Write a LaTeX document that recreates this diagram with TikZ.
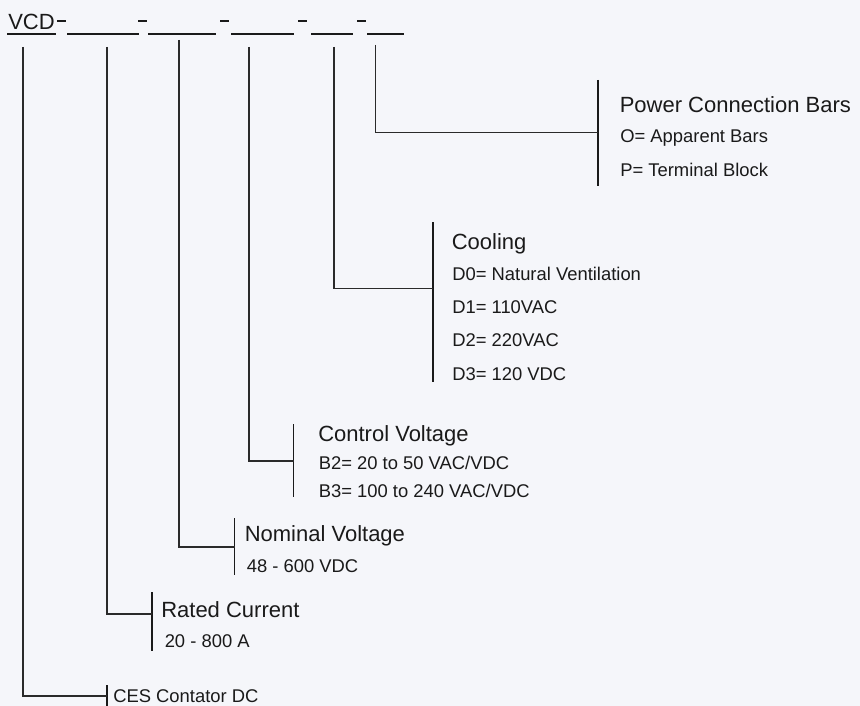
\documentclass[tikz,border=0pt]{standalone}
\usepackage{fontspec}
\setmainfont{Liberation Sans}
\definecolor{bg}{HTML}{F5F6FA}
\definecolor{ink}{HTML}{1A1A1A}
\definecolor{wire}{HTML}{2A2A2A}
\tikzset{
  title/.style={anchor=base west, inner sep=0pt, font=\fontsize{16.5}{19}\selectfont, text=ink},
  item/.style={anchor=base west, inner sep=0pt, font=\fontsize{13.8}{16}\selectfont, text=ink},
  bar/.style={draw=ink, line width=1pt},
  link/.style={draw=wire, line width=1pt},
  blank/.style={draw=ink, line width=0.9pt},
}
\begin{document}
\begin{tikzpicture}[x=0.75pt,y=-0.75pt]
\fill[bg] (0,0) rectangle (860,706);
\useasboundingbox (0,0) rectangle (860,706);

% code line
\node[title] (vcd) at (8,30) {VCD};
\draw[blank] (7,34) -- (56,34);
\foreach \a/\b in {57/66,138/147,220/229,298/307,357/366}
  \draw[blank] (\a,21) -- (\b,21);
\foreach \a/\b in {67/139,148/216,231/294,311/353,367/404}
  \draw[blank] (\a,34) -- (\b,34);

% start points of drop lines
\coordinate (s1) at (23,47);
\coordinate (s2) at (107,47);
\coordinate (s3) at (179,40);
\coordinate (s4) at (249,47);
\coordinate (s5) at (334,47);
\coordinate (s6) at (375.5,45);

% bars
\coordinate (b6t) at (598,80);   \coordinate (b6b) at (598,186);   \coordinate (j6) at (598,132.7);
\coordinate (b5t) at (433,222);  \coordinate (b5b) at (433,382);   \coordinate (j5) at (433,288.3);
\coordinate (b4t) at (293.7,424);\coordinate (b4b) at (293.7,497); \coordinate (j4) at (293.7,461);
\coordinate (b3t) at (234.5,518);\coordinate (b3b) at (234.5,575); \coordinate (j3) at (234.5,547);
\coordinate (b2t) at (152,592);  \coordinate (b2b) at (152,651);   \coordinate (j2) at (152,614);
\coordinate (b1t) at (107,685);  \coordinate (b1b) at (107,706);   \coordinate (j1) at (107,696);

\foreach \i in {1,...,6} {
  \draw[bar] (b\i t) -- (b\i b);
  \draw[link] (s\i) |- (j\i);
}

% Power Connection Bars
\node[title] (pcb) at (619.5,113) {Power Connection Bars};
\node[item] (pcbO) at (620,143) {O= Apparent Bars};
\node[item] (pcbP) at (620,176) {P= Terminal Block};

% Cooling
\node[title] (cool) at (451.5,249) {Cooling};
\node[item] (d0) at (452,280) {D0= Natural Ventilation};
\node[item] (d1) at (452,313) {D1= 110VAC};
\node[item] (d2) at (452,346.5) {D2= 220VAC};
\node[item] (d3) at (452,380) {D3= 120 VDC};

% Control Voltage
\node[title] (ctrl) at (318,441.7) {Control Voltage};
\node[item] (b2) at (318.5,469) {B2= 20 to 50 VAC/VDC};
\node[item] (b3) at (318.5,497) {B3= 100 to 240 VAC/VDC};

% Nominal Voltage
\node[title] (nom) at (244.5,541.7) {Nominal Voltage};
\node[item] (nomv) at (246.5,572.7) {48 - 600 VDC};

% Rated Current
\node[title] (rc) at (161,617) {Rated Current};
\node[item] (rcv) at (164.5,647) {20 - 800 A};

% CES
\node[item] (ces) at (113,702.7) {CES Contator DC};
\end{tikzpicture}
\end{document}
